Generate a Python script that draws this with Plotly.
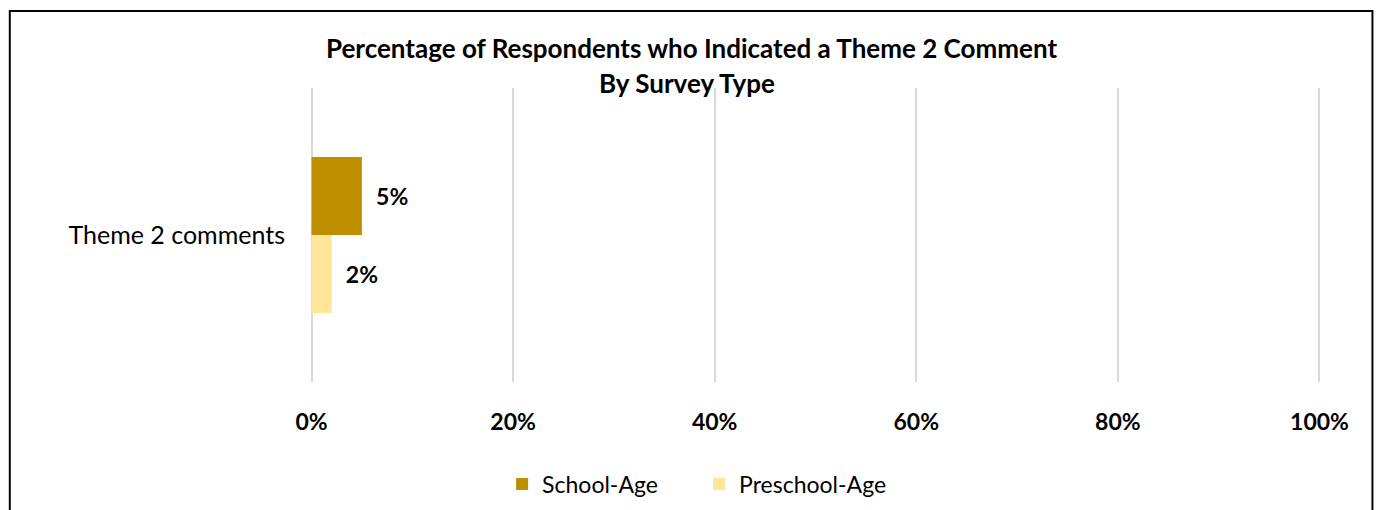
import plotly.graph_objects as go

categories = ["Theme 2 comments"]
school_age = [5]
preschool_age = [2]
series_names = ["School-Age", "Preschool-Age"]
colors = ["#BF8F00", "#FFE699"]
tick_vals = [0, 20, 40, 60, 80, 100]
tick_text = ["0%", "20%", "40%", "60%", "80%", "100%"]
title_lines = ["Percentage of Respondents who Indicated a Theme 2 Comment", "By Survey Type"]

FONT = "Lato"
W, H = 1379, 510
L, R, T, B = 309.5, 57.5, 88, 128
pw, ph = W - L - R, H - T - B

def px_x(px):
    return (px - L) / pw

def px_y(py):
    return (H - B - py) / ph

NB = "\u00a0"
fig = go.Figure()
fig.add_trace(go.Bar(
    y=categories, x=preschool_age, name=series_names[1], orientation="h",
    marker=dict(color=colors[1], line=dict(width=0)),
    text=[f"{v}%" for v in preschool_age], texttemplate=NB * 2 + "%{text}",
    textposition="outside", cliponaxis=False,
    textfont=dict(family=FONT, size=23, color="black", weight="bold"),
    legendrank=2,
))
fig.add_trace(go.Bar(
    y=categories, x=school_age, name=series_names[0], orientation="h",
    marker=dict(color=colors[0], line=dict(width=0)),
    text=[f"{v}%" for v in school_age], texttemplate=NB * 2 + "%{text}",
    textposition="outside", cliponaxis=False,
    textfont=dict(family=FONT, size=23, color="black", weight="bold"),
    legendrank=1,
))

fig.update_layout(
    width=W, height=H,
    margin=dict(l=L, r=R, t=T, b=B, autoexpand=False),
    paper_bgcolor="white", plot_bgcolor="white",
    barmode="group", bargap=0.47, bargroupgap=0,
    font=dict(family=FONT, color="black"),
    showlegend=True,
    legend=dict(orientation="h", x=px_x(699), xanchor="center", y=px_y(484), yanchor="middle",
                font=dict(family=FONT, size=23, color="black"), entrywidth=152,
                bgcolor="rgba(0,0,0,0)"),
    xaxis=dict(range=[-0.15, 100.15], tickvals=tick_vals, ticktext=tick_text,
               showgrid=True, gridcolor="#D9D9D9", gridwidth=2, zeroline=False,
               showline=False, ticks="", ticklabelstandoff=24,
               tickfont=dict(family=FONT, size=23, color="black", weight="bold")),
    yaxis=dict(showgrid=False, zeroline=False, showline=False, ticks="",
               ticklabelstandoff=24,
               tickfont=dict(family=FONT, size=25, color="black")),
    annotations=[
        dict(text=f"<b>{title_lines[0]}</b>", xref="paper", yref="paper",
             x=px_x(691), y=px_y(48), xanchor="center", yanchor="middle", showarrow=False,
             font=dict(family=FONT, size=26, color="black")),
        dict(text=f"<b>{title_lines[1]}</b>", xref="paper", yref="paper",
             x=px_x(687), y=px_y(83), xanchor="center", yanchor="middle", showarrow=False,
             font=dict(family=FONT, size=26, color="black")),
    ],
    shapes=[dict(type="rect", xref="paper", yref="paper",
                 x0=px_x(9), x1=px_x(1373), y0=px_y(530), y1=px_y(11),
                 line=dict(color="black", width=2), fillcolor="rgba(0,0,0,0)", layer="above")],
)

fig.write_html("out.html")
